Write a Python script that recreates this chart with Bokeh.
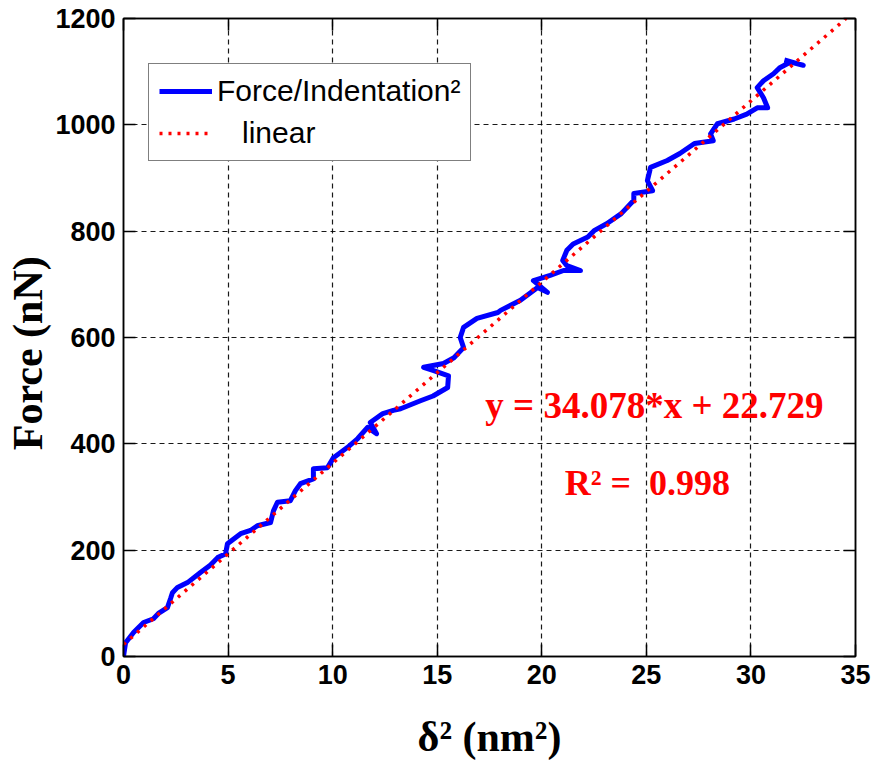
from bokeh.plotting import figure
from bokeh.models import (Range1d, LinearAxis, Label, Legend, LegendItem, CustomJSTickFormatter)
from bokeh.embed import file_html
from bokeh.resources import INLINE

delta_sq = [0.0, 0.1, 0.48, 0.96, 1.43, 1.67, 2.1, 2.25, 2.34, 2.58, 3.06, 3.68, 4.16, 4.5, 4.88,
            4.97, 5.6, 6.07, 6.4, 7.03, 7.17, 7.36, 7.98, 8.22, 8.46, 9.08, 9.08, 9.75, 10.04,
            10.7, 11.2, 11.67, 12.1, 11.8, 12.4, 12.9, 13.25, 14.2, 14.8, 15.5, 15.54, 14.8,
            14.35, 15.3, 15.8, 16.26, 16.1, 16.26, 16.9, 17.9, 18.03, 18.98, 19.8, 20.27, 19.6,
            20.4, 21.04, 21.85, 21.2, 21.0, 21.2, 21.5, 22.2, 22.5, 23.1, 23.8, 24.4, 24.4,
            25.3, 25.05, 25.2, 26.0, 26.6, 27.3, 28.2, 28.07, 28.4, 29.2, 29.8, 30.3, 30.8,
            30.6, 30.3, 30.6, 31.08, 31.4, 31.9, 32.5, 31.6]
force_nN = [0, 26, 45, 64, 71, 81, 92, 109, 120, 130, 139, 158, 172, 186, 193,
            212, 231, 237, 246, 252, 274, 290, 293, 312, 325, 334, 353, 355, 374,
            393, 410, 431, 419, 440, 457, 463, 466, 481, 490, 506, 528, 538,
            544, 551, 562, 581, 600, 619, 636, 647, 651, 670, 694, 685, 707,
            717, 726, 726, 735, 745, 764, 776, 789, 801, 814, 833, 858, 871,
            876, 895, 920, 933, 946, 965, 970, 983, 1002, 1011, 1020, 1032, 1032,
            1051, 1070, 1083, 1096, 1108, 1118, 1112, 1122]

# Linear fit line endpoints (y = 34.078*x + 22.729)
fit_x = [0.0, 34.55]
fit_y = [22.73, 1200.0]

x_ticks = [0, 5, 10, 15, 20, 25, 30, 35]
y_ticks = [0, 200, 400, 600, 800, 1000, 1200]

TICK_FONT = "Liberation Sans"
SERIF = "Liberation Serif"

p = figure(width=875, height=765, output_backend="svg", toolbar_location=None,
           x_range=Range1d(0, 35), y_range=Range1d(0, 1200),
           x_axis_label="δ² (nm²)",
           y_axis_label="Force (nN)\u00a0\u00a0\u00a0",
           min_border_left=123, min_border_right=20, min_border_top=18, min_border_bottom=109)
p.background_fill_color = "white"
p.border_fill_color = "white"
p.outline_line_color = "black"
p.outline_line_width = 1.5

p.xaxis.ticker = x_ticks
p.yaxis.ticker = y_ticks

for ax in (p.xaxis[0], p.yaxis[0]):
    ax.major_tick_in = 12
    ax.major_tick_out = 0
    ax.minor_tick_line_color = None
    ax.axis_line_color = "black"
    ax.axis_line_width = 1.5
    ax.major_tick_line_color = "black"
    ax.major_tick_line_width = 1.5
    ax.major_label_text_font = TICK_FONT
    ax.major_label_text_font_style = "bold"
    ax.major_label_text_font_size = "27px"
    ax.major_label_text_color = "black"
    ax.axis_label_text_font = SERIF
    ax.axis_label_text_font_style = "bold"
    ax.axis_label_text_font_size = "42px"
    ax.axis_label_text_color = "black"

p.xaxis.major_label_standoff = 8
p.yaxis.major_label_standoff = 8
p.xaxis.axis_label_standoff = 27
p.yaxis.axis_label_standoff = 1

# box ticks on top and right
for loc, tk in (("above", x_ticks), ("right", y_ticks)):
    a = LinearAxis(ticker=tk, formatter=CustomJSTickFormatter(code="return ''"),
                   major_tick_in=12, major_tick_out=0, minor_tick_line_color=None,
                   major_label_standoff=0, axis_line_width=1.5, major_tick_line_width=1.5,
                   major_label_text_font_size="1px")
    p.add_layout(a, loc)

p.grid.grid_line_color = "black"
p.grid.grid_line_dash = "5 4"
p.grid.grid_line_width = 1.2
p.grid.grid_line_alpha = 0.9

blue = p.line(delta_sq, force_nN, line_color="#0000FF", line_width=5, line_join="round")
red = p.line(fit_x, fit_y, line_color="#FF0000", line_width=3.5, line_dash="3 6")

legend = Legend(items=[LegendItem(label="Force/Indentation²", renderers=[blue]),
                       LegendItem(label="\u00a0\u00a0\u00a0linear", renderers=[red])],
                location=(25, 495), orientation="vertical")
legend.label_text_font = TICK_FONT
legend.label_text_font_size = "30px"
legend.label_text_color = "black"
legend.glyph_width = 53
legend.glyph_height = 34
legend.label_height = 34
legend.label_standoff = 5
legend.spacing = 8
legend.padding = 10
legend.margin = 0
legend.border_line_color = "black"
legend.border_line_width = 1.5
legend.background_fill_color = "white"
legend.background_fill_alpha = 1.0
p.add_layout(legend, "center")

eq = Label(x=17.3, y=472, text="y = 34.078*x + 22.729", text_color="#FF0000",
           text_font=SERIF, text_font_style="bold", text_font_size="37px",
           text_baseline="alphabetic")
r2 = Label(x=21.1, y=326, text="R² =\u00a0 0.998", text_color="#FF0000",
           text_font=SERIF, text_font_style="bold", text_font_size="36px",
           text_baseline="alphabetic")
p.add_layout(eq)
p.add_layout(r2)

open("out.html", "w").write(file_html(p, INLINE))
